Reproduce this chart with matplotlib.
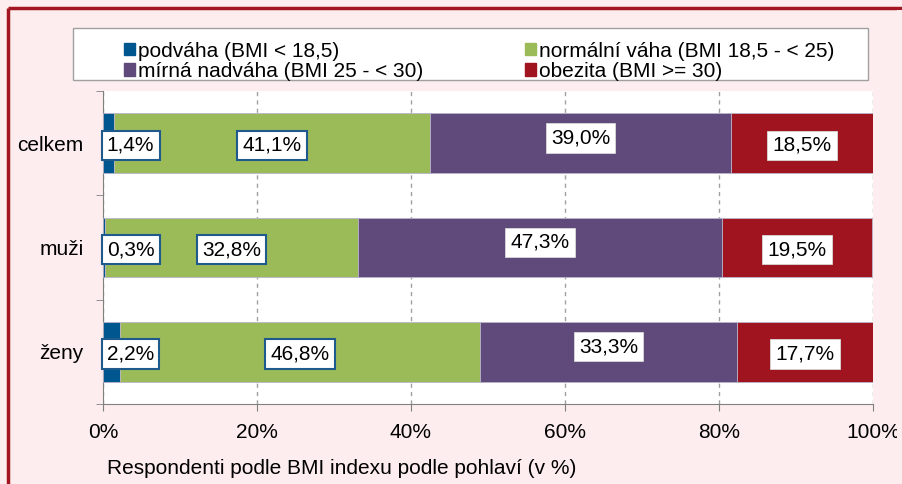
import matplotlib.pyplot as plt
from matplotlib.patches import Rectangle, Patch
from matplotlib.lines import Line2D

plt.rcParams['font.family'] = ['Liberation Sans', 'DejaVu Sans']

# data
groups = ['celkem', 'muži', 'ženy']
series = ['podváha (BMI < 18,5)', 'normální váha (BMI 18,5 - < 25)',
          'mírná nadváha (BMI 25 - < 30)', 'obezita (BMI >= 30)']
podvaha = [1.4, 0.3, 2.2]
normalni = [41.1, 32.8, 46.8]
nadvaha = [39.0, 47.3, 33.3]
obezita = [18.5, 19.5, 17.7]
xticks = [0, 20, 40, 60, 80, 100]
xlabels = ['0%', '20%', '40%', '60%', '80%', '100%']

colors = ['#00568F', '#9BBB59', '#604A7B', '#A01420']
bg = '#FDEDEE'
fs = 15

fig = plt.figure(figsize=(9.03, 4.84), dpi=100)
fig.patch.set_facecolor(bg)
fig.patch.set_linewidth(0)

# dark red frame, only top and left visible
fx, fy = 7.5 / 903, 1 - 7.5 / 484
fig.add_artist(Line2D([fx, 1.0], [fy, fy], transform=fig.transFigure,
                      color='#A31621', linewidth=2.5, solid_capstyle='butt'))
fig.add_artist(Line2D([fx, fx], [0, fy], transform=fig.transFigure,
                      color='#A31621', linewidth=2.5, solid_capstyle='butt'))
# keep the right edge clear
fig.add_artist(Rectangle((1 - 6 / 903, 0), 6 / 903, fy - 2 / 484,
                         transform=fig.transFigure, fc=bg, ec='none', zorder=20))

ax = fig.add_axes([103 / 903, 1 - 404 / 484, 770 / 903, 313 / 484])
ax.set_facecolor('white')

y = range(len(groups))
vals = [podvaha, normalni, nadvaha, obezita]
left = [0.0] * len(groups)
for i, v in enumerate(vals):
    ax.barh(y, v, left=left, height=0.57, color=colors[i],
            edgecolor='#B9B4C8', linewidth=0.6, zorder=3)
    for j in y:
        if i == 0:
            ax.text(left[j] + 0.5, j + 0.02, f'{v[j]:.1f}%'.replace('.', ','),
                    ha='left', va='center', fontsize=fs, zorder=5,
                    bbox=dict(boxstyle='square,pad=0.25', fc='white',
                              ec='#1F5A8C', lw=1.5))
        else:
            dy = {1: 0.02, 2: -0.05, 3: 0.02}[i]
            ec = '#1F5A8C' if i == 1 else '#D8D8D8'
            lw = 1.5 if i == 1 else 0.6
            ax.text(left[j] + v[j] / 2, j + dy, f'{v[j]:.1f}%'.replace('.', ','),
                    ha='center', va='center', fontsize=fs, zorder=5,
                    bbox=dict(boxstyle='square,pad=0.25', fc='white',
                              ec=ec, lw=lw))
        left[j] += v[j]

ax.set_xlim(0, 100)
ax.set_ylim(2.5, -0.5)
ax.set_xticks(xticks)
ax.set_xticklabels(xlabels, fontsize=fs)
ax.set_yticks(list(y))
ax.set_yticklabels(groups, fontsize=fs)
ax.set_yticks([-0.5, 0.5, 1.5, 2.5], minor=True)
ax.tick_params(axis='y', which='major', length=0, pad=14)
ax.tick_params(axis='y', which='minor', length=5, color='#808080', direction='out')
ax.tick_params(axis='x', length=5, color='#808080', pad=9)
ax.xaxis.grid(True, linestyle=(0, (3, 3)), color='#A0A0A0', linewidth=1, zorder=0)
ax.set_axisbelow(True)
for s in ['top', 'right']:
    ax.spines[s].set_visible(False)
for s in ['left', 'bottom']:
    ax.spines[s].set_color('#808080')

fig.text(107 / 903, 1 - 468 / 484, 'Respondenti podle BMI indexu podle pohlaví (v %)',
         fontsize=fs, ha='left', va='center')

# legend
fig.patches.append(Rectangle((73 / 903, 1 - 80 / 484), 795 / 903, 52 / 484,
                             transform=fig.transFigure, fc='white',
                             ec='#A0A0A0', lw=1, zorder=1))
handles = [Patch(color=c) for c in colors]
order = [0, 2, 1, 3]
leg = fig.legend([handles[k] for k in order], [series[k] for k in order],
                 ncol=2, frameon=False, fontsize=fs,
                 loc='upper left', bbox_to_anchor=(109 / 903, 1 - 27 / 484),
                 handlelength=0.55, handleheight=0.55, handletextpad=0.12,
                 labelspacing=0.05, columnspacing=4.9, borderpad=0.2)
leg.set_zorder(2)

fig.savefig('out.png', dpi=100, facecolor=bg)
